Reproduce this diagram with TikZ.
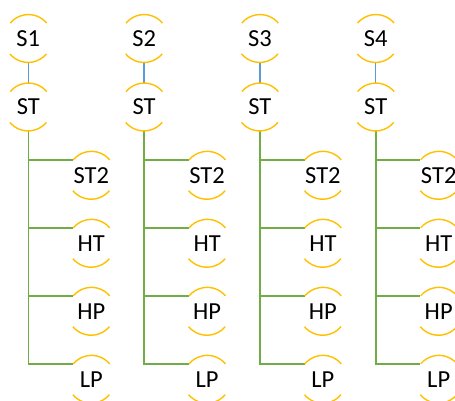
\documentclass[tikz,border=0pt]{standalone}
\usepackage{fontspec}
\setmainfont{Carlito}
\definecolor{arcyellow}{HTML}{FFC000}
\definecolor{lnblue}{HTML}{5B9BD5}
\definecolor{lngreen}{HTML}{70AD47}
\begin{document}
\begin{tikzpicture}[x=1pt,y=1pt,
  cnode/.style={circle, minimum size=47.6pt, inner sep=0pt, font=\fontsize{24.5}{28}\selectfont},
  arcline/.style={draw=arcyellow, line width=1.4pt},
  blueln/.style={draw=lnblue, line width=1.4pt},
  greenln/.style={draw=lngreen, line width=1.6pt}]
\useasboundingbox (0,0) rectangle (455,-401);
\foreach \i/\cx in {1/28.3,2/144.1,3/259.9,4/375.7}{
  \pgfmathsetmacro{\kx}{\cx+63}
  \node[cnode] (s\i) at (\cx,-38.5) {S\i};
  \node[cnode] (st\i) at (\cx,-107) {ST};
  \node[cnode] (a\i) at (\kx,-175.3) {ST2};
  \node[cnode] (b\i) at (\kx,-243.3) {HT};
  \node[cnode] (c\i) at (\kx,-311.3) {HP};
  \node[cnode] (d\i) at (\kx,-379.3) {LP};
  \draw[blueln] (s\i.south) -- (st\i.north);
  \foreach \ch in {a,b,c,d}{
    \draw[greenln] (st\i.south) |- (\ch\i.140);
  }
  \foreach \n in {s\i,st\i,a\i,b\i,c\i,d\i}{
    \draw[arcline] (\n.40) arc[start angle=40,end angle=140,radius=23.8pt];
    \draw[arcline] (\n.220) arc[start angle=220,end angle=320,radius=23.8pt];
  }
}
\end{tikzpicture}
\end{document}
